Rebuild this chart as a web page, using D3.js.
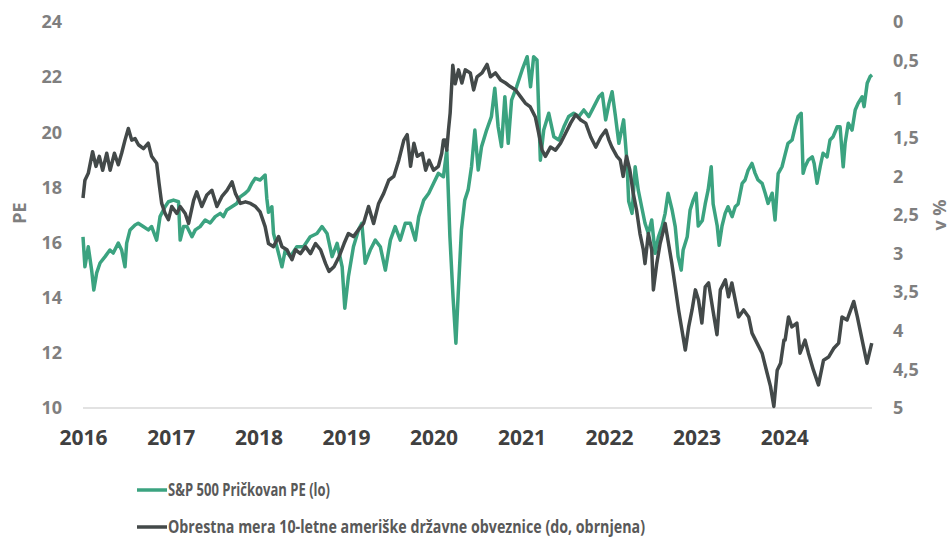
<!DOCTYPE html>
<html>
<head>
<meta charset="utf-8">
<script src="https://cdn.jsdelivr.net/npm/d3@7"></script>
<style>
  body { margin: 0; background: #fff; }
  text { font-family: "Open Sans", "Liberation Sans", sans-serif; font-weight: bold; }
</style>
</head>
<body>
<div id="wrapper"></div>
<script>
// S&P 500 forward PE (left axis)
var peDates = [
  "2016-01-01","2016-01-09","2016-01-23","2016-02-06","2016-02-15","2016-02-27","2016-03-12","2016-04-02","2016-04-22","2016-05-06","2016-05-27","2016-06-10","2016-06-24","2016-07-01","2016-07-15","2016-08-05","2016-08-18","2016-09-08","2016-09-29","2016-10-13","2016-11-03","2016-11-17","2016-12-08","2016-12-22",
  "2017-01-12","2017-02-02","2017-02-09","2017-02-23","2017-03-09","2017-03-30","2017-04-13","2017-05-03","2017-05-24","2017-06-14","2017-07-05","2017-07-26","2017-08-08","2017-08-22","2017-09-12","2017-10-03","2017-10-17","2017-11-07","2017-11-21","2017-12-05","2017-12-19",
  "2018-01-08","2018-01-29","2018-02-05","2018-02-12","2018-02-26","2018-03-05","2018-03-26","2018-04-09","2018-04-23","2018-05-14","2018-06-10","2018-07-08","2018-08-05","2018-09-02","2018-09-23","2018-10-14","2018-11-04","2018-11-25","2018-12-16","2018-12-27",
  "2019-01-11","2019-02-01","2019-02-22","2019-03-08","2019-03-22","2019-04-12","2019-05-03","2019-05-24","2019-06-14","2019-07-05","2019-07-25","2019-08-15","2019-09-05","2019-09-26","2019-10-17","2019-10-31","2019-11-21","2019-12-12",
  "2020-01-01","2020-01-21","2020-02-11","2020-02-25","2020-03-09","2020-03-22","2020-04-03","2020-04-12","2020-04-26","2020-05-10","2020-05-24","2020-06-07","2020-06-21","2020-07-05","2020-07-19","2020-08-09","2020-08-29","2020-09-12","2020-09-26","2020-10-10","2020-10-24","2020-11-07","2020-11-21","2020-12-12",
  "2021-01-04","2021-01-25","2021-02-08","2021-02-21","2021-03-07","2021-03-21","2021-04-04","2021-04-25","2021-05-16","2021-06-06","2021-06-27","2021-07-17","2021-08-07","2021-08-28","2021-09-18","2021-10-09","2021-10-30","2021-11-20","2021-12-04","2021-12-18",
  "2022-01-01","2022-01-14","2022-01-28","2022-02-11","2022-02-25","2022-03-03","2022-03-17","2022-03-24","2022-04-07","2022-04-20","2022-05-03","2022-05-17","2022-05-31","2022-06-14","2022-06-28","2022-07-12","2022-07-26","2022-08-10","2022-08-23","2022-09-04","2022-09-21","2022-10-04","2022-10-16","2022-10-29","2022-11-06","2022-11-23","2022-12-05","2022-12-18","2022-12-30",
  "2023-01-08","2023-01-25","2023-02-06","2023-02-18","2023-03-03","2023-03-11","2023-03-28","2023-04-05","2023-04-17","2023-04-30","2023-05-12","2023-05-29","2023-06-11","2023-06-23","2023-07-10","2023-07-22","2023-08-04","2023-08-20","2023-09-02","2023-09-14","2023-10-01","2023-10-14","2023-10-26","2023-11-12","2023-11-24","2023-12-07","2023-12-23",
  "2024-01-05","2024-01-17","2024-02-03","2024-02-16","2024-02-28","2024-03-12","2024-03-20","2024-03-28","2024-04-10","2024-04-27","2024-05-05","2024-05-17","2024-05-30","2024-06-11","2024-06-28","2024-07-10","2024-07-23","2024-08-09","2024-08-21","2024-09-03","2024-09-11","2024-09-24","2024-10-10","2024-10-23","2024-11-04","2024-11-21","2024-11-29","2024-12-12","2024-12-24","2025-01-01"
]
var peValues = [
  16.21,15.12,15.85,15.0,14.28,14.9,15.26,15.49,15.73,15.62,15.98,15.73,15.12,15.98,16.46,16.64,16.70,16.58,16.46,16.58,16.09,16.94,17.30,17.48,
  17.54,17.48,16.09,16.58,16.58,16.21,16.46,16.58,16.82,16.71,16.94,17.06,16.94,17.18,17.30,17.42,17.66,17.79,17.91,18.15,18.33,
  18.27,18.45,17.6,17.1,17.30,16.33,15.61,15.12,15.73,15.49,15.85,15.85,16.21,16.33,16.58,16.33,15.49,15.97,15.12,13.62,
  14.76,15.85,16.46,16.70,15.25,15.73,16.09,15.85,15.0,16.09,16.58,16.09,16.70,16.70,16.09,16.94,17.54,17.79,
  18.15,18.51,18.39,19.36,16.21,14.04,12.35,14.04,16.46,17.54,17.91,18.75,20.08,18.63,19.48,20.08,20.57,21.6,20.2,19.48,21.29,19.6,21.17,21.65,
  22.26,22.74,21.65,22.74,22.62,18.99,20.08,20.69,19.84,19.72,20.2,20.57,20.69,20.57,20.81,20.57,20.93,21.29,21.41,20.45,
  21.05,21.47,20.57,19.6,20.2,20.45,18.9,17.5,17.06,18.75,17.9,17.3,16.7,16.33,16.82,15.61,16.21,16.58,17.06,17.79,17.18,16.58,15.49,15.0,15.73,16.21,17.18,17.54,17.79,
  16.6,16.8,17.4,17.9,18.75,17.4,16.6,15.9,16.6,17.06,17.3,16.94,17.3,17.4,18.15,18.27,18.63,18.87,18.51,18.27,18.15,17.79,17.42,17.79,16.82,18.5,18.75,
  19.2,19.6,19.72,20.2,20.57,20.69,18.51,18.75,18.99,19.11,18.87,18.15,18.75,19.24,19.11,19.72,19.84,20.2,20.2,18.75,19.6,20.33,20.08,20.81,21.05,21.29,20.93,21.78,22.02,22.08
]

// 10-year US Treasury yield, % (right axis, inverted)
var yieldDates = [
  "2016-01-01","2016-01-09","2016-01-23","2016-02-10","2016-02-24","2016-03-09","2016-03-23","2016-04-09","2016-04-23","2016-05-11","2016-05-27","2016-06-10","2016-06-24","2016-07-08","2016-07-22","2016-08-05","2016-08-19","2016-09-09","2016-09-29","2016-10-13","2016-11-03","2016-11-13","2016-11-24","2016-12-08","2016-12-22",
  "2017-01-05","2017-01-26","2017-02-09","2017-03-02","2017-03-16","2017-04-06","2017-04-19","2017-05-10","2017-05-31","2017-06-21","2017-07-12","2017-08-02","2017-08-23","2017-09-13","2017-09-27","2017-10-18","2017-11-08","2017-11-29","2017-12-20",
  "2018-01-08","2018-01-29","2018-02-12","2018-03-05","2018-03-26","2018-04-09","2018-04-30","2018-05-21","2018-06-04","2018-06-25","2018-07-16","2018-08-06","2018-08-27","2018-09-17","2018-10-08","2018-10-22","2018-11-12","2018-12-03","2018-12-24",
  "2019-01-11","2019-02-01","2019-02-22","2019-03-15","2019-04-05","2019-04-26","2019-05-17","2019-06-07","2019-06-28","2019-07-19","2019-08-09","2019-08-30","2019-09-13","2019-09-27","2019-10-11","2019-10-25","2019-11-15","2019-11-29","2019-12-13",
  "2020-01-01","2020-01-21","2020-02-04","2020-02-11","2020-02-18","2020-02-25","2020-03-03","2020-03-10","2020-03-21","2020-03-31","2020-04-14","2020-04-28","2020-05-12","2020-06-02","2020-06-16","2020-06-30","2020-07-21","2020-08-11","2020-08-25","2020-09-15","2020-10-06","2020-10-27","2020-11-17","2020-12-08","2020-12-29",
  "2021-01-17","2021-02-07","2021-02-28","2021-03-14","2021-03-28","2021-04-11","2021-05-02","2021-05-23","2021-06-13","2021-07-04","2021-07-25","2021-08-15","2021-09-05","2021-09-26","2021-10-17","2021-11-07","2021-11-28","2021-12-19",
  "2022-01-01","2022-01-13","2022-02-03","2022-02-17","2022-03-01","2022-03-15","2022-03-29","2022-04-12","2022-04-26","2022-05-10","2022-05-24","2022-05-31","2022-06-14","2022-06-28","2022-07-05","2022-07-19","2022-08-02","2022-08-23","2022-09-06","2022-09-20","2022-10-04","2022-10-18","2022-11-01","2022-11-15","2022-11-29","2022-12-13","2022-12-27",
  "2023-01-09","2023-01-23","2023-02-06","2023-02-20","2023-03-10","2023-03-27","2023-04-10","2023-05-01","2023-05-14","2023-05-28","2023-06-11","2023-06-25","2023-07-16","2023-08-06","2023-08-20","2023-09-10","2023-10-01","2023-10-22","2023-11-05","2023-11-19","2023-12-03","2023-12-17","2023-12-31",
  "2024-01-05","2024-01-19","2024-02-02","2024-02-23","2024-03-07","2024-03-28","2024-04-11","2024-05-02","2024-05-23","2024-06-13","2024-07-04","2024-07-25","2024-08-15","2024-08-29","2024-09-19","2024-10-17","2024-11-01","2024-11-21","2024-12-11","2024-12-31"
]
var yieldValues = [
  2.28,2.05,1.96,1.68,1.87,1.74,1.92,1.70,1.92,1.70,1.85,1.70,1.53,1.38,1.53,1.51,1.59,1.64,1.57,1.74,1.83,2.09,2.35,2.48,2.56,
  2.39,2.48,2.39,2.48,2.61,2.31,2.20,2.39,2.24,2.18,2.39,2.26,2.18,2.07,2.22,2.35,2.33,2.35,2.39,
  2.46,2.65,2.87,2.91,2.78,2.91,2.95,3.08,2.95,3.0,2.91,3.0,2.87,2.95,3.13,3.23,3.17,3.04,2.87,
  2.74,2.78,2.69,2.61,2.39,2.61,2.35,2.22,2.05,2.0,1.79,1.53,1.46,1.87,1.57,1.74,1.70,1.92,1.79,
  1.92,1.87,1.70,1.53,1.53,1.66,1.40,1.18,0.56,0.80,0.62,0.79,0.62,0.66,0.88,0.71,0.66,0.55,0.71,0.66,0.75,0.79,0.84,0.88,0.97,
  1.05,1.10,1.23,1.44,1.66,1.74,1.62,1.66,1.57,1.44,1.31,1.20,1.27,1.31,1.49,1.62,1.49,1.40,
  1.53,1.62,1.74,1.79,2.0,1.74,1.92,2.22,2.44,2.74,2.95,3.13,2.74,2.95,3.47,3.13,2.87,2.61,2.87,3.13,3.43,3.73,3.99,4.25,3.95,3.73,3.47,
  3.60,3.90,3.43,3.38,3.73,4.05,3.47,3.34,3.56,3.38,3.60,3.82,3.73,3.82,4.03,4.16,4.29,4.55,4.72,4.98,4.51,4.42,4.12,
  4.12,3.82,3.95,3.90,4.29,4.12,4.29,4.51,4.70,4.38,4.34,4.23,4.16,3.82,3.86,3.62,3.82,4.12,4.42,4.16
]

var peTicks = [10, 12, 14, 16, 18, 20, 22, 24]
var yieldTicks = [0, 0.5, 1, 1.5, 2, 2.5, 3, 3.5, 4, 4.5, 5]
var yearTicks = ["2016", "2017", "2018", "2019", "2020", "2021", "2022", "2023", "2024"]
var legendText = ["S&P 500 Pričkovan PE (lo)", "Obrestna mera 10-letne ameriške državne obveznice (do, obrnjena)"]

var green = "#3ba380", dark = "#434949"

var margin = { top: 22, right: 78, bottom: 129, left: 83 },
  width = 950 - margin.left - margin.right,
  height = 537 - margin.top - margin.bottom

var parse = d3.timeParse("%Y-%m-%d")

var svg = d3.select("#wrapper")
  .append("svg")
  .attr("width", 950)
  .attr("height", 537)

var g = svg.append("g")
  .attr("transform", "translate(" + margin.left + "," + margin.top + ")")

var x = d3.scaleTime()
  .domain([parse("2016-01-01"), parse("2025-01-01")])
  .range([0, width])

var yLeft = d3.scaleLinear().domain([10, 24]).range([height, 0])
var yRight = d3.scaleLinear().domain([0, 5]).range([0, height])

// baseline
g.append("line")
  .attr("x1", 0).attr("x2", width)
  .attr("y1", height).attr("y2", height)
  .attr("stroke", "#d9d9d9")
  .attr("stroke-width", 1.5)

// x axis labels
var xAxis = g.append("g")
  .attr("transform", "translate(0," + height + ")")
  .call(d3.axisBottom(x)
    .tickValues(yearTicks.map(function (d) { return parse(d + "-01-01") }))
    .tickFormat(d3.timeFormat("%Y"))
    .tickSize(0)
    .tickPadding(22))
xAxis.select(".domain").remove()
xAxis.selectAll("text")
  .attr("fill", "#404040")
  .style("font-size", "21px")

// left axis
var leftAxis = g.append("g")
  .call(d3.axisLeft(yLeft).tickValues(peTicks).tickSize(0).tickPadding(21))
leftAxis.select(".domain").remove()
leftAxis.selectAll("text")
  .attr("fill", "#7f7f7f")
  .style("font-size", "18px")

// right axis
var rightAxis = g.append("g")
  .attr("transform", "translate(" + width + ",0)")
  .call(d3.axisRight(yRight).tickValues(yieldTicks).tickSize(0).tickPadding(21)
    .tickFormat(function (d) { return String(d).replace(".", ",") }))
rightAxis.select(".domain").remove()
rightAxis.selectAll("text")
  .attr("fill", "#7f7f7f")
  .style("font-size", "18px")

// axis titles
svg.append("text")
  .attr("transform", "translate(26,213) rotate(-90)")
  .attr("text-anchor", "middle")
  .attr("fill", "#7f7f7f")
  .style("font-size", "18px")
  .text("PE")

svg.append("text")
  .attr("transform", "translate(946,215) rotate(-90)")
  .attr("text-anchor", "middle")
  .attr("fill", "#7f7f7f")
  .style("font-size", "18px")
  .text("v %")

// lines
var peData = peDates.map(function (d, i) { return { date: parse(d), value: peValues[i] } })
var yieldData = yieldDates.map(function (d, i) { return { date: parse(d), value: yieldValues[i] } })

g.append("path")
  .datum(peData)
  .attr("fill", "none")
  .attr("stroke", green)
  .attr("stroke-width", 3.5)
  .attr("stroke-linejoin", "round")
  .attr("d", d3.line().x(function (d) { return x(d.date) }).y(function (d) { return yLeft(d.value) }))

g.append("path")
  .datum(yieldData)
  .attr("fill", "none")
  .attr("stroke", dark)
  .attr("stroke-width", 3.5)
  .attr("stroke-linejoin", "round")
  .attr("d", d3.line().x(function (d) { return x(d.date) }).y(function (d) { return yRight(d.value) }))

// legend
var legend = svg.append("g")
  .selectAll("g")
  .data(legendText)
  .enter()
  .append("g")
  .attr("transform", function (d, i) { return "translate(137," + (490 + i * 37) + ")" })

legend.append("line")
  .attr("x1", 0).attr("x2", 30)
  .attr("stroke", function (d, i) { return i === 0 ? green : dark })
  .attr("stroke-width", 3.5)

legend.append("text")
  .attr("x", 31)
  .attr("dy", "0.35em")
  .attr("fill", "#595959")
  .style("font-size", "17px")
  .attr("textLength", function (d, i) { return i === 0 ? 162 : 477 })
  .attr("lengthAdjust", "spacingAndGlyphs")
  .text(function (d) { return d })
</script>
</body>
</html>
